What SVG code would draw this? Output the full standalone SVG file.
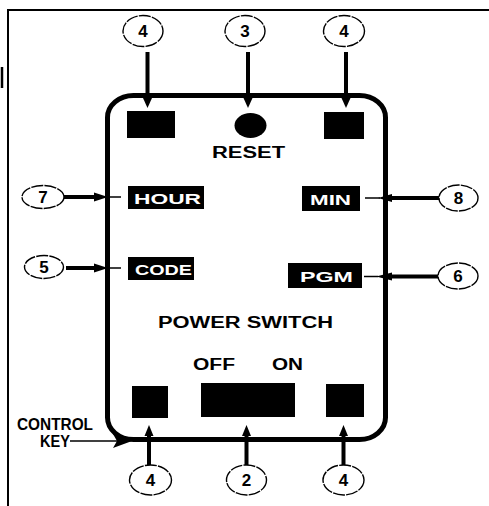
<svg xmlns="http://www.w3.org/2000/svg" width="489" height="506" viewBox="0 0 489 506">
<style>
.frame{stroke:#000;stroke-width:2;fill:none}
.box{stroke:#000;stroke-width:5;fill:none}
.co{fill:#fff;stroke:#000;stroke-width:1.4;stroke-dasharray:12 1.2}
.num{font-family:"Liberation Sans",Arial,sans-serif;font-weight:bold;font-size:17px;text-anchor:middle;fill:#000}
.lbl{font-family:"Liberation Sans",Arial,sans-serif;font-weight:bold;font-size:16px;fill:#000}
.wl{font-family:"Liberation Sans",Arial,sans-serif;font-weight:bold;font-size:15px;fill:#fff}
.ck{font-family:"Liberation Sans",Arial,sans-serif;font-weight:bold;font-size:16.5px;fill:#000}
.ln{stroke:#000;stroke-width:4;fill:none}
.thin{stroke:#000;stroke-width:1.5;fill:none}
</style>
<rect width="489" height="506" fill="#fff"/>
<g id="frame">
<path class="frame" d="M8,506 V10 H489"/>
<line x1="2" y1="67" x2="2" y2="88" stroke="#000" stroke-width="2.5"/>
</g>
<g id="unit">
<rect class="box" x="107.5" y="95.5" width="278" height="344" rx="26" ry="22"/>
<rect x="127" y="111" width="48" height="27"/>
<rect x="324" y="112" width="40" height="27"/>
<ellipse cx="250.5" cy="125.5" rx="16" ry="12.5"/>
<rect x="132" y="386" width="36" height="32"/>
<rect x="201" y="383" width="94" height="34"/>
<rect x="326" y="384" width="38" height="33"/>
</g>
<g id="reset-label"><text class="lbl" x="212" y="158" textLength="73" lengthAdjust="spacingAndGlyphs">RESET</text></g>
<g id="hour"><rect x="128" y="186" width="76" height="23"/><text class="wl" x="134" y="204" textLength="67" lengthAdjust="spacingAndGlyphs">HOUR</text></g>
<g id="code"><rect x="128" y="257" width="66" height="23"/><text class="wl" x="135" y="275" textLength="57" lengthAdjust="spacingAndGlyphs">CODE</text></g>
<g id="min"><rect x="302" y="186" width="58" height="25"/><text class="wl" x="310" y="205" textLength="41" lengthAdjust="spacingAndGlyphs">MIN</text></g>
<g id="pgm"><rect x="288" y="263" width="74" height="25"/><text class="wl" x="300" y="282" textLength="53" lengthAdjust="spacingAndGlyphs">PGM</text></g>
<g id="power-switch"><text class="lbl" x="158" y="328" textLength="175" lengthAdjust="spacingAndGlyphs">POWER SWITCH</text></g>
<g id="off"><text class="lbl" x="193" y="370" textLength="42" lengthAdjust="spacingAndGlyphs">OFF</text></g>
<g id="on"><text class="lbl" x="272" y="370" textLength="31" lengthAdjust="spacingAndGlyphs">ON</text></g>
<g id="control-key">
<text class="ck" x="17" y="430" textLength="76" lengthAdjust="spacingAndGlyphs">CONTROL</text>
<text class="ck" x="40" y="447" textLength="30" lengthAdjust="spacingAndGlyphs">KEY</text>
</g>
<g id="connectors">
<line class="ln" x1="147.5" y1="52" x2="147.5" y2="100"/><polygon points="143,98 152,98 147.5,108"/>
<line class="ln" x1="248" y1="52" x2="248" y2="100"/><polygon points="243.5,98 252.5,98 248,108"/>
<line class="ln" x1="346" y1="52" x2="346" y2="100"/><polygon points="341.5,98 350.5,98 346,108"/>
<line class="ln" x1="64" y1="197" x2="96" y2="197"/><polygon points="94,192.5 94,201.5 108,197"/><line class="thin" x1="106" y1="197" x2="121" y2="197"/>
<line class="ln" x1="66" y1="268" x2="96" y2="268"/><polygon points="94,263.5 94,272.5 108,268"/><line class="thin" x1="106" y1="268" x2="121" y2="268"/>
<line class="ln" x1="439" y1="198" x2="390" y2="198" stroke-width="3"/><polygon points="392,194 392,202 378,198"/><line class="thin" x1="380" y1="198" x2="365" y2="198"/>
<line class="ln" x1="438" y1="276.5" x2="390" y2="276.5" stroke-width="3"/><polygon points="392,272.5 392,280.5 376,276.5"/><line class="thin" x1="378" y1="276.5" x2="364" y2="276.5"/>
<line class="ln" x1="149" y1="466" x2="149" y2="433"/><polygon points="144.5,436 153.5,436 149,425"/>
<line class="ln" x1="246.5" y1="466" x2="246.5" y2="433"/><polygon points="242,436 251,436 246.5,425"/>
<line class="ln" x1="343.5" y1="466" x2="343.5" y2="433"/><polygon points="339,436 348,436 343.5,425"/>
<line class="thin" x1="70" y1="441" x2="120" y2="441"/><path d="M113,434 L132,441 L113,448 L117,441 Z"/>
</g>
<g id="c4a"><ellipse class="co" cx="143" cy="31" rx="20" ry="15.5"/><text class="num" x="143" y="37">4</text></g>
<g id="c3"><ellipse class="co" cx="245" cy="31" rx="20" ry="15.5"/><text class="num" x="245" y="37">3</text></g>
<g id="c4b"><ellipse class="co" cx="344" cy="31" rx="20.5" ry="15.5"/><text class="num" x="344" y="37">4</text></g>
<g id="c7"><ellipse class="co" cx="43" cy="197" rx="21" ry="11.5"/><text class="num" x="43" y="203">7</text></g>
<g id="c5"><ellipse class="co" cx="44" cy="267" rx="19.5" ry="11.5"/><text class="num" x="44" y="273">5</text></g>
<g id="c8"><ellipse class="co" cx="458.5" cy="198" rx="19.5" ry="13"/><text class="num" x="458.5" y="204">8</text></g>
<g id="c6"><ellipse class="co" cx="458" cy="276" rx="20" ry="13"/><text class="num" x="458" y="282">6</text></g>
<g id="c4c"><ellipse class="co" cx="150.5" cy="480" rx="21" ry="15"/><text class="num" x="150.5" y="486">4</text></g>
<g id="c2"><ellipse class="co" cx="246.5" cy="480" rx="20" ry="15"/><text class="num" x="246.5" y="486">2</text></g>
<g id="c4d"><ellipse class="co" cx="343.5" cy="480" rx="20.5" ry="15"/><text class="num" x="343.5" y="486">4</text></g>
</svg>
